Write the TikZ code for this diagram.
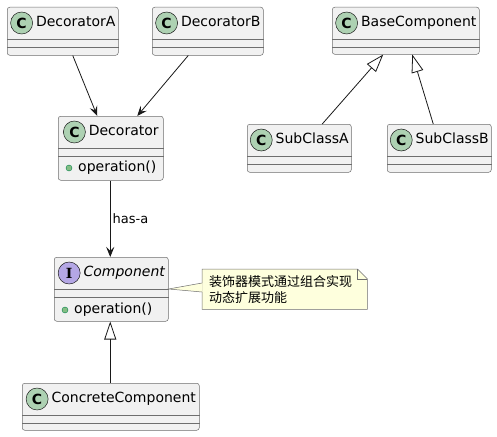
\documentclass[tikz,border=0pt]{standalone}
\usepackage{fontspec}
\setmainfont{DejaVu Sans}
\newfontfamily\cjk{Noto Sans CJK SC}
\newfontfamily\spotserif{DejaVu Serif}
\usepackage{xcolor}
\definecolor{umlbg}{HTML}{F1F1F1}
\definecolor{umlline}{HTML}{181818}
\definecolor{umlborder}{HTML}{6E6E6E}
\definecolor{umlspotc}{HTML}{ADD1B2}
\definecolor{umlspoti}{HTML}{B4A7E5}
\definecolor{umlnote}{HTML}{FEFFDD}
\definecolor{umldot}{HTML}{84BE84}
\definecolor{umldotline}{HTML}{038048}
\usetikzlibrary{arrows.meta,positioning,backgrounds,calc}

\tikzset{
  classbox/.style={draw=umlborder,line width=0.5pt,fill=umlbg,rounded corners=2.5pt,
    inner sep=0pt,anchor=north west},
  classsep/.style={draw=umlborder,line width=0.5pt},
  classtitle/.style={inner sep=0pt,text height=10pt,text depth=3pt,font=\fontsize{14}{16}\selectfont},
  classspot/.style={circle,draw=umlline,line width=0.5pt,minimum size=22pt,inner sep=0pt,
    font=\fontsize{14}{14}\selectfont\bfseries},
  methoddot/.style={circle,draw=umldotline,fill=umldot,line width=0.4pt,minimum size=6pt,inner sep=0pt},
  membertext/.style={anchor=west,inner sep=0pt,text height=10pt,text depth=3pt,
    font=\fontsize{14}{16}\selectfont},
  notetext/.style={anchor=north west,minimum width=165pt,minimum height=40pt,text width=151pt,
    inner xsep=7pt,inner ysep=0pt,align=left,font=\cjk\fontsize{13}{16}\selectfont},
  notebox/.style={draw=umlborder,line width=0.5pt,fill=umlnote},
  noteline/.style={draw=umlborder,line width=0.5pt},
  assoc/.style={draw=umlline,line width=0.8pt,-{Stealth[length=10pt,width=8pt,inset=4pt]}},
  inherit/.style={draw=umlline,line width=0.8pt,-{Triangle[open,length=18pt,width=12pt,line width=0.8pt]}},
  edgelabel/.style={font=\fontsize{13}{15}\selectfont,inner sep=2pt}
}

% name, x, y, width, height, spot colour, spot letter, title
\newcommand{\umlclass}[8]{%
  \node[classbox,minimum width=#4pt,minimum height=#5pt] (#1) at (#2,#3) {};
  \node[classtitle] (#1-title) at ([xshift=13pt,yshift=-16pt]#1.north) {#8};
  \node[classspot,fill=#6,left=3pt of #1-title] (#1-spot) {#7};
  \draw[classsep] ([yshift=-32pt]#1.north west) -- ([yshift=-32pt]#1.north east);
  \draw[classsep] ([yshift=-40pt]#1.north west) -- ([yshift=-40pt]#1.north east);
}
% class, offset from top, text
\newcommand{\umlmethod}[3]{%
  \node[methoddot] (#1-dot) at ([xshift=11pt,yshift=-#2pt]#1.north west) {};
  \node[membertext] (#1-op) at ([xshift=20pt,yshift=-#2pt]#1.north west) {#3};
}

\begin{document}
\begin{tikzpicture}[x=1pt,y=-1pt]
\useasboundingbox (0,0) rectangle (497,436);

% classes
\umlclass{DecoratorA}{7}{7}{111}{48}{umlspotc}{C}{DecoratorA}
\umlclass{DecoratorB}{152}{7}{111}{48}{umlspotc}{C}{DecoratorB}
\umlclass{BaseComponent}{332}{7}{147}{47}{umlspotc}{C}{BaseComponent}
\umlclass{SubClassA}{247}{124}{104}{48}{umlspotc}{C}{SubClassA}
\umlclass{SubClassB}{387}{124}{104}{48}{umlspotc}{C}{SubClassB}
\umlclass{Decorator}{58}{116}{105}{64}{umlspotc}{C}{Decorator}
\umlmethod{Decorator}{52}{operation()}
\umlclass{Component}{54}{257}{114}{64}{umlspoti}{\spotserif\bfseries I}{\itshape Component}
\umlmethod{Component}{53}{operation()}
\umlclass{ConcreteComponent}{22}{383}{177}{47}{umlspotc}{C}{ConcreteComponent}

% note
\node[notetext] (note) at (202,269) {装饰器模式通过组合实现\\动态扩展功能};
\begin{scope}[on background layer]
  \filldraw[notebox] (note.north west) -- ([xshift=-10pt]note.north east)
    -- ([yshift=-10pt]note.north east) -- (note.south east) -- (note.south west) -- cycle;
  \draw[noteline] ([xshift=-10pt]note.north east) |- ([yshift=-10pt]note.north east);
\end{scope}
\fill[umlnote] ([yshift=-32pt]Component.north east) -- ([xshift=0.6pt,yshift=-14pt]note.north west)
  -- ([xshift=0.6pt,yshift=-23pt]note.north west) -- cycle;
\draw[noteline] ([yshift=-14pt]note.north west) -- ([yshift=-32pt]Component.north east)
  -- ([yshift=-23pt]note.north west);

% relations
\draw[assoc] ([xshift=10pt]DecoratorA.south) -- ([xshift=-13.5pt]Decorator.north);
\draw[assoc] ([xshift=-19.5pt]DecoratorB.south) -- ([xshift=26.5pt]Decorator.north);
\draw[assoc] ([xshift=-0.5pt]Decorator.south) -- node[edgelabel,right] (hasa) {has-a} ([xshift=-1pt]Component.north);
\draw[inherit] ([xshift=23pt]SubClassA.north) -- ([xshift=-22.5pt]BaseComponent.south);
\draw[inherit] ([xshift=-6pt]SubClassB.north) -- ([xshift=6.5pt]BaseComponent.south);
\draw[inherit] ([xshift=-0.5pt]ConcreteComponent.north) -- ([xshift=-1pt]Component.south);
\end{tikzpicture}
\end{document}
